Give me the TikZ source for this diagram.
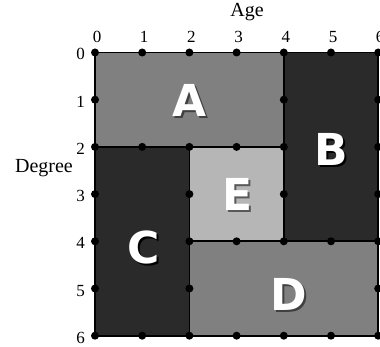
\documentclass[tikz,border=0pt]{standalone}
\usepackage{fontspec}
\setmainfont{Liberation Serif}
\newfontfamily\letterfont{DejaVu Sans}
\definecolor{midgray}{HTML}{808080}
\definecolor{darkgray}{HTML}{2A2A2A}
\definecolor{lightgray}{HTML}{B6B6B6}
\newcommand{\shadowed}[2]{\makebox[0pt][l]{\kern2pt\raisebox{-2pt}{\textcolor{#2}{#1}}}#1}
\tikzset{
  border/.style={draw=black,line width=1.6pt},
  gdot/.style={fill=black},
  biglabel/.style={text=white,font=\letterfont\bfseries\fontsize{44}{44}\selectfont,inner sep=0pt},
  numlabel/.style={font=\fontsize{17}{17}\selectfont,inner sep=0pt,anchor=base},
  axlabel/.style={font=\fontsize{20}{20}\selectfont,inner sep=0pt,anchor=base}
}
\begin{document}
\begin{tikzpicture}
\useasboundingbox (0pt,0pt) rectangle (380pt,-347pt);
\clip (0pt,0pt) rectangle (380pt,-347pt);
\begin{scope}[shift={(95pt,-52.5pt)},x=47.2pt,y=-47.2pt]
  % regions
  \fill[midgray] (0,0) rectangle (4,2);
  \fill[darkgray] (4,0) rectangle (6,4);
  \fill[darkgray] (0,2) rectangle (2,6);
  \fill[midgray] (2,4) rectangle (6,6);
  \fill[lightgray] (2,2) rectangle (4,4);
  % borders
  \draw[border] (0,0) rectangle (6,6);
  \draw[border] (4,0) -- (4,4);
  \draw[border] (0,2) -- (4,2);
  \draw[border] (2,2) -- (2,6);
  \draw[border] (2,4) -- (6,4);
  % dots
  \foreach \c/\r in {0/0,1/0,2/0,3/0,4/0,5/0,6/0,
                     0/1,4/1,6/1,
                     0/2,1/2,2/2,3/2,4/2,6/2,
                     0/3,2/3,4/3,6/3,
                     0/4,2/4,3/4,4/4,5/4,6/4,
                     0/5,2/5,6/5,
                     0/6,1/6,2/6,3/6,4/6,5/6,6/6}
    \fill[gdot] (\c,\r) circle (4pt);
  % region letters
  \foreach \n/\px/\py/\sc in {A/2/1.03/black!75, B/5/2.08/black, C/1.02/4.15/black, D/4.1/5.14/black!75, E/3.03/3.02/black!65} {
    \node[biglabel] (lab\n) at (\px,\py) {\shadowed{\n}{\sc}};
  }
  % column numbers
  \foreach \c in {0,...,6}
    \node[numlabel] (col\c) at ([xshift=2pt]\c,0) [yshift=9.5pt] {\c};
  % row numbers
  \foreach \r in {0,...,6}
    \node[numlabel] (row\r) at ([xshift=-14.5pt]0,\r) [yshift=-7.5pt] {\r};
\end{scope}
\node[axlabel] (age) at (247pt,-17pt) {Age};
\node[axlabel] (degree) at (44pt,-173pt) {Degree};
\end{tikzpicture}
\end{document}
